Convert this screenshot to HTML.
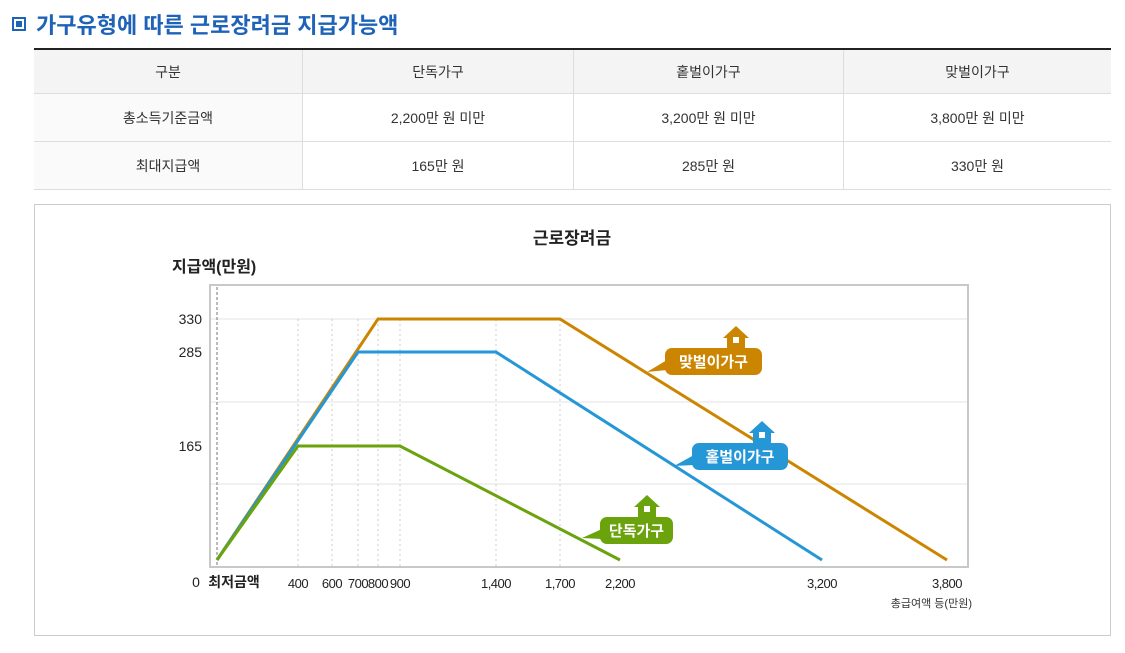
<!DOCTYPE html>
<html><head><meta charset="utf-8">
<style>
body{margin:0;width:1125px;height:653px;background:#fff;font-family:"Liberation Sans","Noto Sans CJK KR",sans-serif;position:relative;overflow:hidden}
.t{position:absolute;left:12px;top:8px;font-size:22px;font-weight:bold;color:#1e63b8;display:flex;align-items:center}
.sq{width:14px;height:14px;border:2px solid #1e63b8;box-sizing:border-box;display:inline-block;margin-right:10px;position:relative}
.sq:after{content:"";position:absolute;left:2px;top:2px;width:6px;height:6px;background:#1e63b8}
table{position:absolute;left:34px;top:48px;width:1077px;border-collapse:collapse;font-size:14px;color:#333}
td{border-bottom:1px solid #ddd;border-left:1px solid #ddd;text-align:center;height:47px;padding:0}
td:first-child{border-left:none}
tr.h td{background:#f4f4f4;height:43px}
table{border-top:2px solid #222}
.box{position:absolute;left:34px;top:204px;width:1077px;height:432px;border:1px solid #ccc;box-sizing:border-box}
</style></head><body>
<div class="t"><span class="sq"></span>가구유형에 따른 근로장려금 지급가능액</div>
<table>
<tr class="h"><td style="width:268px">구분</td><td style="width:270px">단독가구</td><td style="width:269px">홑벌이가구</td><td>맞벌이가구</td></tr>
<tr><td style="background:#fafafa">총소득기준금액</td><td>2,200만 원 미만</td><td>3,200만 원 미만</td><td>3,800만 원 미만</td></tr>
<tr><td style="background:#fafafa">최대지급액</td><td>165만 원</td><td>285만 원</td><td>330만 원</td></tr>
</table>
<div class="box"></div>
<svg id="c" width="1125" height="653" style="position:absolute;left:0;top:0" font-family="Liberation Sans, Noto Sans CJK KR, sans-serif"></svg>
<script>
const xKnots=[0,400,600,700,800,900,1400,1700,2200,3200,3800];
const xPix=[217,298,332,358,378,400,496,560,620,822,947];
const yTicks=[165,285,330];
const xTicks=[400,600,700,800,900,1400,1700,2200,3200,3800];
const xTickLabels=["400","600","700","800","900","1,400","1,700","2,200","3,200","3,800"];
const singleX=[0,400,900,2200];const singleY=[0,165,165,0];
const soleX=[0,700,1400,3200];const soleY=[0,285,285,0];
const coupleX=[0,800,1700,3800];const coupleY=[0,330,330,0];
function interp(v,ks,ps){for(let i=0;i<ks.length-1;i++){if(v<=ks[i+1]||i==ks.length-2){return ps[i]+(v-ks[i])/(ks[i+1]-ks[i])*(ps[i+1]-ps[i]);}}}
const X=v=>interp(v,xKnots,xPix);
const Y=v=>interp(v,[0,165,285,330],[560,446,352,319]);
const s=document.getElementById('c');const NS='http://www.w3.org/2000/svg';
function el(t,a,p){const e=document.createElementNS(NS,t);for(const k in a)e.setAttribute(k,a[k]);(p||s).appendChild(e);return e;}
function tx(x,y,str,a){const e=el('text',Object.assign({x:x,y:y},a));e.textContent=str;return e;}
let e;
e=tx(572,244,'근로장려금',{'text-anchor':'middle','font-size':17,'font-weight':'bold',fill:'#222'});
e=tx(172,272,'지급액(만원)',{'font-size':16,'font-weight':'bold',fill:'#222'});
e=el('rect',{x:210,y:285,width:758,height:282,fill:'#fff',stroke:'#c8c8c8','stroke-width':2});
[319,402,484].forEach(y=>{e=el('line',{x1:211,x2:967,y1:y,y2:y,stroke:'#e3e3e3'});});
e=el('line',{x1:217,x2:217,y1:287,y2:566,stroke:'#777','stroke-dasharray':'3,2'});
[400,600,700,800,900,1400,1700].forEach(v=>{e=el('line',{x1:X(v),x2:X(v),y1:319,y2:566,stroke:'#ccc','stroke-dasharray':'2,3'});});
yTicks.forEach(v=>{e=tx(202,Y(v)+5,String(v),{'text-anchor':'end','font-size':14,fill:'#222'});});
e=tx(196,587,'0',{'text-anchor':'middle','font-size':14,fill:'#222'});
e=tx(234,587,'최저금액',{'text-anchor':'middle','font-size':14,'font-weight':'bold',fill:'#222'});
xTicks.forEach((v,i)=>{e=tx(X(v),588,xTickLabels[i],{'text-anchor':'middle','font-size':13,fill:'#222','letter-spacing':'-0.5'});});
e=tx(972,607,'총급여액 등(만원)',{'text-anchor':'end','font-size':11,fill:'#333'});
function series(xs,ys,col,name){const p=xs.map((x,i)=>X(x)+','+Y(ys[i])).join(' ');const l=el('polyline',{points:p,fill:'none',stroke:col,'stroke-width':3});}
series(coupleX,coupleY,'#cc8500','line-couple');
series(soleX,soleY,'#2596d6','line-sole-earner');
series(singleX,singleY,'#6aa30c','line-single');
function callout(x,y,w,str,col,tipx,tipy,name){const g=el('g',{});
el('polygon',{points:`${tipx},${tipy} ${x+2},${y+12} ${x+2},${y+22}`,fill:col},g);
el('rect',{x:x,y:y,width:w,height:27,rx:7,fill:col},g);
const hx=x+w-26,hy=y-22;
el('polygon',{points:`${hx-13},${hy+12} ${hx},${hy} ${hx+13},${hy+12} ${hx+9},${hy+12} ${hx+9},${hy+22} ${hx-9},${hy+22} ${hx-9},${hy+12}`,fill:col},g);
el('rect',{x:hx-3,y:hy+11,width:6,height:6,fill:'#fff'},g);
const t=el('text',{x:x+w/2,y:y+19,'text-anchor':'middle','font-size':15,'font-weight':'bold',fill:'#fff'},g);t.textContent=str;}
callout(665,348,97,'맞벌이가구','#cc8500',647,372,'legend-couple');
callout(692,443,96,'홑벌이가구','#2596d6',674,466,'legend-sole-earner');
callout(600,517,73,'단독가구','#6aa30c',582,538,'legend-single');
</script>
</body></html>
